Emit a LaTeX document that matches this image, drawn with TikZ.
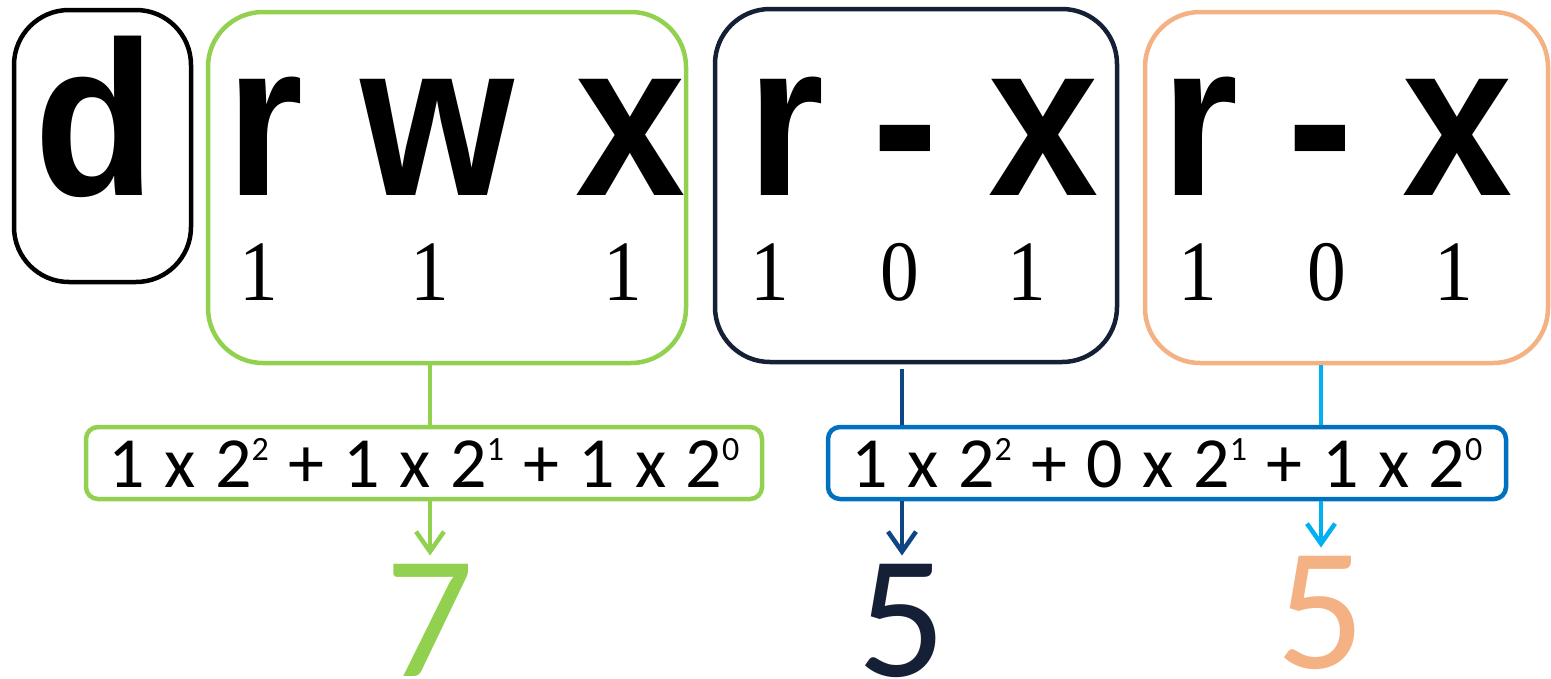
\documentclass[tikz,border=0pt]{standalone}
\usepackage{fontspec}
\usetikzlibrary{arrows.meta,positioning}
\newfontfamily\letterfont[FakeStretch=0.9]{Liberation Sans}
\newfontfamily\bitfont[FakeStretch=0.9]{Liberation Serif}
\newfontfamily\sumfont{Carlito}
\definecolor{PermGreen}{HTML}{92D050}
\definecolor{PermNavy}{HTML}{152036}
\definecolor{PermPeach}{HTML}{F4B183}
\definecolor{PermBlue}{HTML}{0070C0}
\definecolor{PermDeep}{HTML}{0F4582}
\definecolor{PermCyan}{HTML}{00B0F0}
\newcommand{\pw}[1]{\raisebox{27pt}{\fontsize{34}{34}\selectfont #1}}
\newcommand{\sumtext}{\sumfont\fontsize{72}{72}\selectfont\spaceskip 19.5pt\relax}

\begin{document}
\begin{tikzpicture}[
  x=1pt,
  y=-1pt,
  group/.style={rectangle,rounded corners=55pt,draw=#1,line width=4.5pt,inner sep=0pt},
  letter/.style={font=\letterfont\bfseries\fontsize{220}{220}\selectfont,anchor=base,inner sep=0pt},
  bit/.style={font=\bitfont\fontsize{86}{86}\selectfont,anchor=base,inner sep=0pt},
  sum/.style={rectangle,rounded corners=12pt,draw=#1,line width=4.5pt,minimum width=676pt,
    minimum height=72pt,font=\sumtext,inner sep=0pt},
  result/.style={font=\sumfont\fontsize{175}{175}\selectfont,text=#1,anchor=base,inner sep=8pt},
  link/.style={draw=#1,line width=4.5pt},
  flow/.style={link=#1,-{Straight Barb[length=20pt,width=28pt]}}
]
  \useasboundingbox (0,0) rectangle (1551,678);

  \node[group=black,minimum width=177pt,minimum height=272pt] (dbox) at (102.5,146) {};
  \node[letter] (d) at (95,195) {d};

  \node[group=PermGreen,minimum width=478pt,minimum height=351pt] (gbox) at (447,187.5) {};
  \node[letter] (gr) at (265,195) {r};
  \node[letter] (gw) at (438,195) {w};
  \node[letter] (gx) at (631,195) {x};
  \node[bit] (g1) at (259,300) {1};
  \node[bit] (g2) at (430,300) {1};
  \node[bit] (g3) at (623,300) {1};

  \node[group=PermNavy,minimum width=402pt,minimum height=353pt] (nbox) at (916,185.5) {};
  \node[letter] (nr) at (786,195) {r};
  \node[letter] (nd) at (905,195) {-};
  \node[letter] (nx) at (1044,195) {x};
  \node[bit] (n1) at (770,300) {1};
  \node[bit] (n2) at (900,300) {0};
  \node[bit] (n3) at (1027,300) {1};

  \node[group=PermPeach,minimum width=403pt,minimum height=351pt] (pbox) at (1346.5,187.5) {};
  \node[letter] (pr) at (1200,195) {r};
  \node[letter] (pd) at (1320,195) {-};
  \node[letter] (px) at (1458,195) {x};
  \node[bit] (p1) at (1198,300) {1};
  \node[bit] (p2) at (1327,300) {0};
  \node[bit] (p3) at (1454,300) {1};

  \node[sum=PermGreen] (gsum) at (424,463) {1 x 2\pw{2} + 1 x 2\pw{1} + 1 x 2\pw{0}};
  \node[sum=PermBlue,minimum width=678pt] (bsum) at (1167,463) {1 x 2\pw{2} + 0 x 2\pw{1} + 1 x 2\pw{0}};

  \node[result=PermGreen] (g7) at (430,676) {7};
  \node[result=PermNavy] (n5) at (902,676) {5};
  \node[result=PermPeach] (p5) at (1321,668) {5};

  \draw[link=PermGreen] (gbox.south -| g7) -- (gsum.north -| g7);
  \draw[flow=PermGreen] (gsum.south -| g7) -- (g7);
  \draw[link=PermDeep,shorten <=5pt] (nbox.south -| n5) -- (bsum.north -| n5);
  \draw[flow=PermDeep] (bsum.south -| n5) -- (n5);
  \draw[link=PermCyan] (pbox.south -| p5) -- (bsum.north -| p5);
  \draw[flow=PermCyan] (bsum.south -| p5) -- (p5);
\end{tikzpicture}
\end{document}
